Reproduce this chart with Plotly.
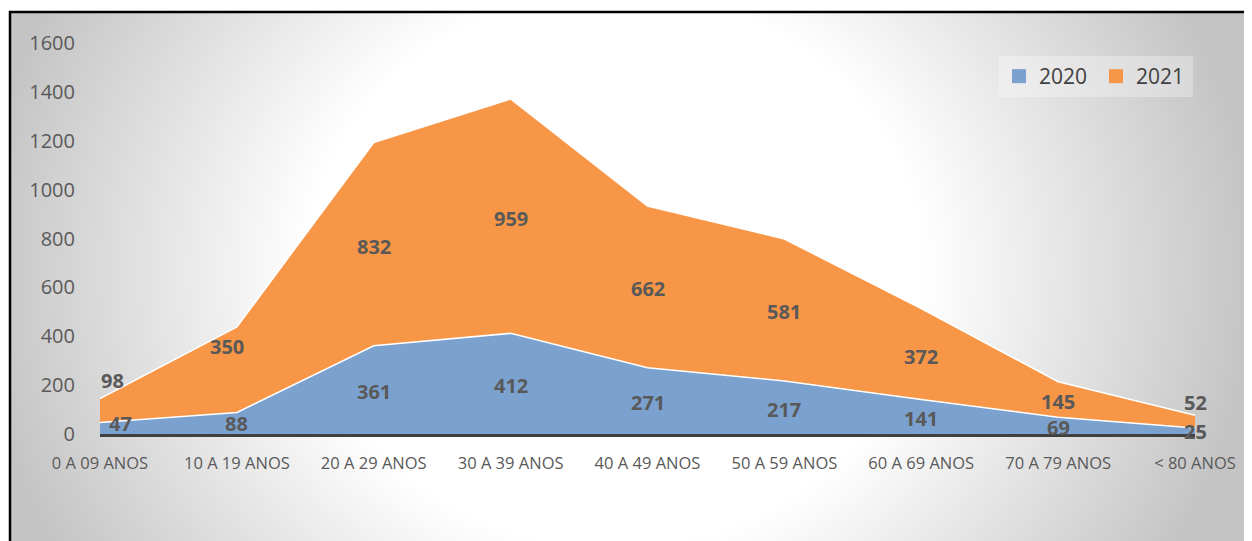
import base64
import plotly.graph_objects as go

faixas = [
    "0 A 09 ANOS", "10 A 19 ANOS", "20 A 29 ANOS",
    "30 A 39 ANOS", "40 A 49 ANOS", "50 A 59 ANOS",
    "60 A 69 ANOS", "70 A 79 ANOS", "< 80 ANOS",
]
casos_2020 = [47, 88, 361, 412, 271, 217, 141, 69, 25]
casos_2021 = [98, 350, 832, 959, 662, 581, 372, 145, 52]

azul = "#7BA1CF"
laranja = "#F79646"
cinza_txt = "#595959"

# page body has an 8px margin, so the figure is drawn 8px in from the window
OFF = 8
W, H = 1252 - OFF, 541 - OFF
m = dict(l=100 - OFF, r=57, t=43 - OFF, b=107)
pw = W - m["l"] - m["r"]
ph = H - m["t"] - m["b"]


# window pixel -> paper coords
def px_x(v):
    return (v - OFF - m["l"]) / pw


def px_y(v):
    return (H - m["b"] - (v - OFF)) / ph


# radial gray background like the excel chart area
svg = f"""<svg xmlns='http://www.w3.org/2000/svg' width='1252' height='541'>
<defs><radialGradient id='g' gradientUnits='userSpaceOnUse' cx='615' cy='270' r='640'
gradientTransform='translate(615 270) scale(1 0.9) translate(-615 -270)'>
<stop offset='0' stop-color='#ffffff'/><stop offset='0.48' stop-color='#ffffff'/>
<stop offset='1' stop-color='#c4c4c4'/></radialGradient></defs>
<rect x='0' y='0' width='1252' height='541' fill='url(#g)'/></svg>"""
fundo = "data:image/svg+xml;base64," + base64.b64encode(svg.encode()).decode()

fig = go.Figure()
fig.add_trace(
    go.Scatter(
        x=faixas, y=casos_2020, stackgroup="a", mode="lines",
        fillcolor=azul, line=dict(color="white", width=1.5),
        showlegend=False, hoverinfo="skip",
    )
)
fig.add_trace(
    go.Scatter(
        x=faixas, y=casos_2021, stackgroup="a", mode="lines",
        fillcolor=laranja, line=dict(color="white", width=1.5),
        showlegend=False, hoverinfo="skip",
    )
)
# legend entries as squares
for nome, cor in [("2020", azul), ("2021", laranja)]:
    fig.add_trace(
        go.Scatter(
            x=[None], y=[None], mode="markers", name=nome,
            marker=dict(symbol="square", size=14, color=cor),
        )
    )

# data labels, centred in each band (excel nudges the edge ones)
desloc_2020 = [(20, 5), (0, 0), (0, -2), (0, -2), (0, -2), (0, -2), (0, -2), (0, -2), (0, -1)]
desloc_2021 = [(12, 30), (-10, 23), (0, -2), (0, -2), (0, -2), (0, -2), (0, -2), (0, -2), (0, 19)]
for i, f in enumerate(faixas):
    a, b = casos_2020[i], casos_2021[i]
    for val, y, (dx, dy) in [(a, a / 2, desloc_2020[i]), (b, a + b / 2, desloc_2021[i])]:
        fig.add_annotation(
            x=f, y=y, text=str(val), showarrow=False,
            xshift=dx, yshift=dy,
            font=dict(family="Open Sans", size=20, color=cinza_txt, weight="bold"),
        )

fig.update_xaxes(
    type="category", range=[0, 8], showgrid=False, zeroline=False,
    showline=True, linecolor="#404040", linewidth=3, ticks="",
    tickfont=dict(family="Open Sans", size=16.5, color=cinza_txt),
    ticklabelstandoff=12,
)
fig.update_yaxes(
    range=[0, 1600], dtick=200, showgrid=False, zeroline=False,
    showline=False, ticks="",
    tickfont=dict(family="Open Sans", size=20, color=cinza_txt),
    ticklabelstandoff=24,
)
fig.update_layout(
    width=W, height=H, autosize=False, margin=m,
    paper_bgcolor="white", plot_bgcolor="rgba(0,0,0,0)",
    font=dict(family="Open Sans", color=cinza_txt),
    legend=dict(
        orientation="h", x=px_x(999), y=px_y(56), xanchor="left", yanchor="top",
        bgcolor="rgba(255,255,255,0.3)", font=dict(size=21, color="#404040"),
        itemsizing="trace", traceorder="normal", entrywidth=52,
    ),
    images=[dict(
        source=fundo, xref="paper", yref="paper",
        x=px_x(0), y=px_y(0), sizex=1252 / pw, sizey=541 / ph,
        xanchor="left", yanchor="top", sizing="stretch", layer="below",
    )],
    shapes=[
        # white strip left/top of the chart border
        dict(type="rect", xref="paper", yref="paper", layer="below",
             x0=px_x(0), x1=px_x(10), y0=px_y(560), y1=px_y(0),
             line=dict(width=0), fillcolor="white"),
        dict(type="rect", xref="paper", yref="paper", layer="below",
             x0=px_x(0), x1=px_x(1260), y0=px_y(12), y1=px_y(0),
             line=dict(width=0), fillcolor="white"),
        dict(type="rect", xref="paper", yref="paper",
             x0=px_x(10), x1=px_x(1262), y0=px_y(560), y1=px_y(12),
             line=dict(color="black", width=2.5), fillcolor="rgba(0,0,0,0)"),
    ],
)

fig.write_html("out.html")
